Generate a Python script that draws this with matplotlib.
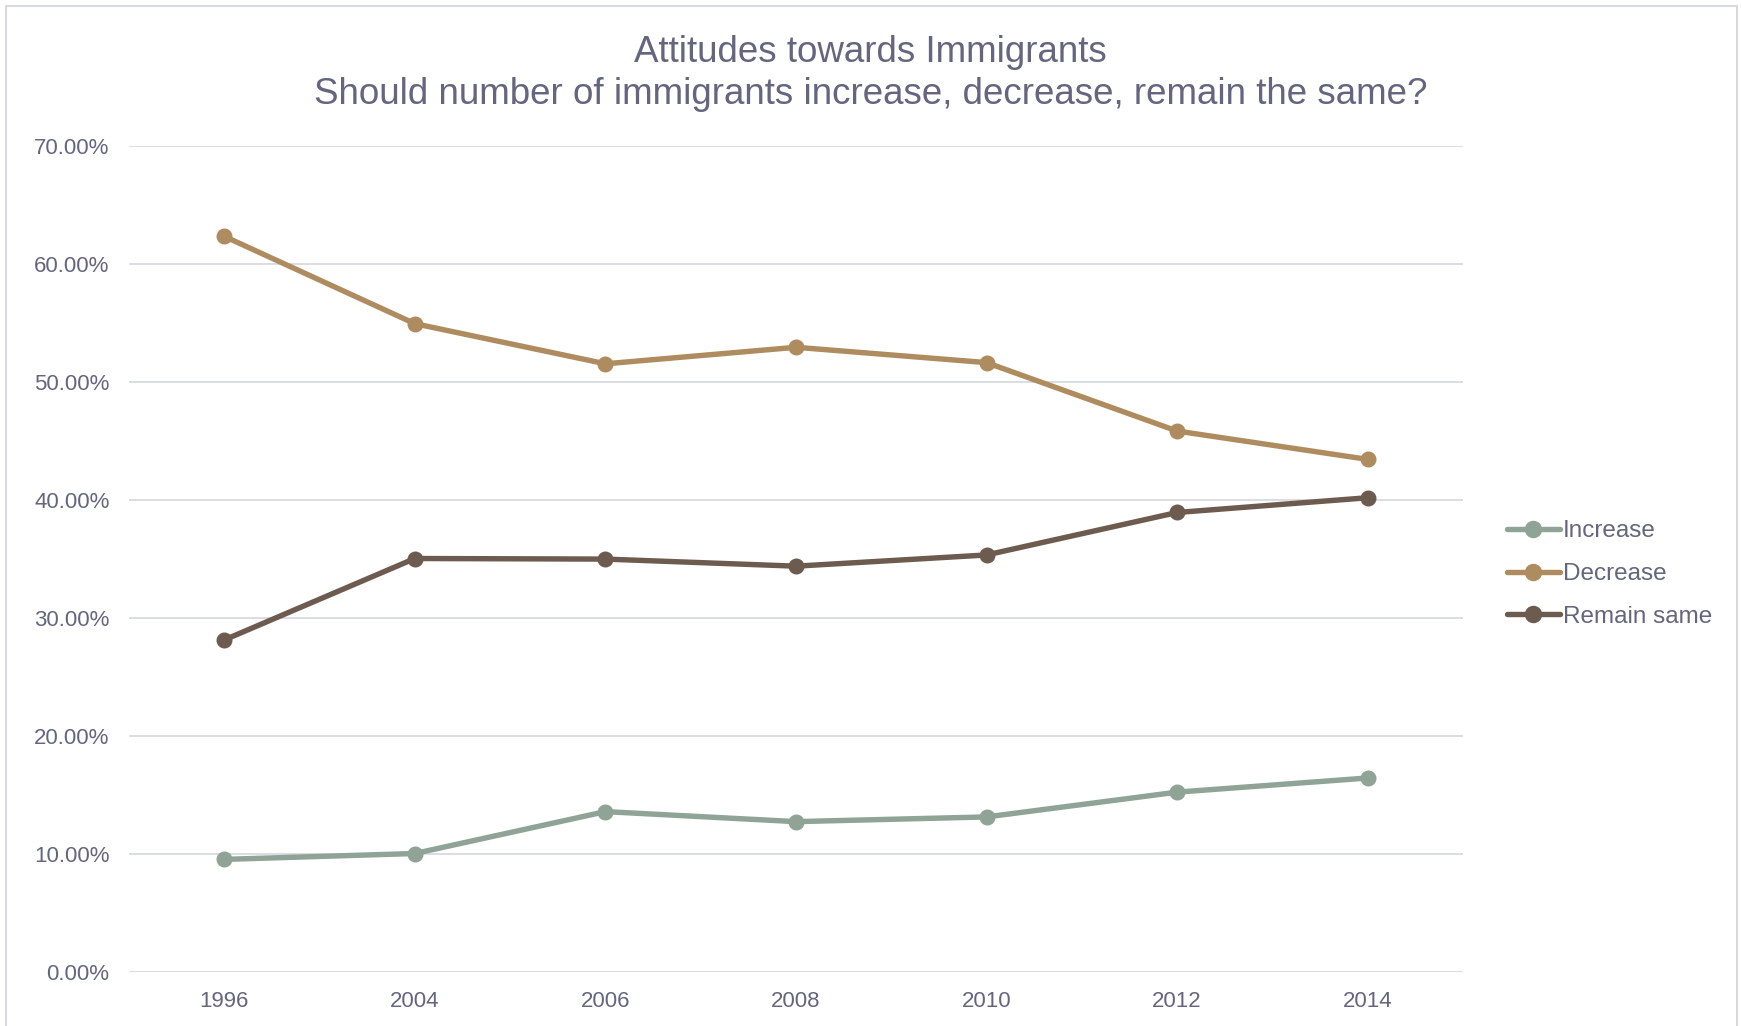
import matplotlib.pyplot as plt
from matplotlib.patches import Rectangle
from matplotlib.ticker import PercentFormatter

years = ["1996", "2004", "2006", "2008", "2010", "2012", "2014"]
increase = [9.5, 10.0, 13.55, 12.7, 13.1, 15.2, 16.4]
decrease = [62.3, 54.9, 51.5, 52.9, 51.6, 45.8, 43.4]
remain_same = [28.1, 35.0, 34.95, 34.35, 35.3, 38.9, 40.15]

series = [("Increase", increase, "#8fa397"),
          ("Decrease", decrease, "#ae8c60"),
          ("Remain same", remain_same, "#6e5b4f")]

text_color = "#65657f"
plt.rcParams["font.family"] = ["Liberation Sans", "DejaVu Sans"]

W, H = 1741, 1026
fig = plt.figure(figsize=(W / 100, H / 100), dpi=100)
ax = fig.add_axes([129 / W, 1 - 971.5 / H, (1463 - 129) / W, (971.5 - 145.5) / H])

x = range(len(years))
for name, vals, color in series:
    ax.plot(x, vals, color=color, lw=3.9, marker="o", ms=10.5, label=name,
            solid_capstyle="round")

ax.set_xlim(-0.5, 6.5)
ax.set_ylim(0, 70)
ax.set_xticks(list(x))
ax.set_xticklabels(years)
ax.set_yticks(range(0, 71, 10))
ax.yaxis.set_major_formatter(PercentFormatter(decimals=2))
ax.grid(axis="y", color="#d9d9e1", lw=1.3)
ax.set_axisbelow(True)
for s in ax.spines.values():
    s.set_visible(False)
ax.tick_params(length=0, labelsize=16, colors=text_color)
ax.tick_params(axis="y", pad=14)
ax.tick_params(axis="x", pad=14)

fig.text(0.5, 1 - 53 / H, "Attitudes towards Immigrants",
         ha="center", va="center", fontsize=26.5, color=text_color)
fig.text(0.5, 1 - 95 / H,
         "Should number of immigrants increase, decrease, remain the same?",
         ha="center", va="center", fontsize=26.5, color=text_color)

leg = fig.legend(loc="center left", bbox_to_anchor=(1497 / W, 1 - 574 / H),
                 frameon=False, fontsize=17.5, handlelength=2.2,
                 handletextpad=0.1, labelspacing=0.85, borderaxespad=0,
                 markerscale=1.1)
for t in leg.get_texts():
    t.set_color(text_color)

fig.patches.append(Rectangle((6 / W, -0.05), (1737 - 6) / W, 1 - 6.5 / H + 0.05,
                             transform=fig.transFigure, fill=False,
                             edgecolor="#d9d9e1", lw=1.5))

fig.savefig("out.png", dpi=100)
